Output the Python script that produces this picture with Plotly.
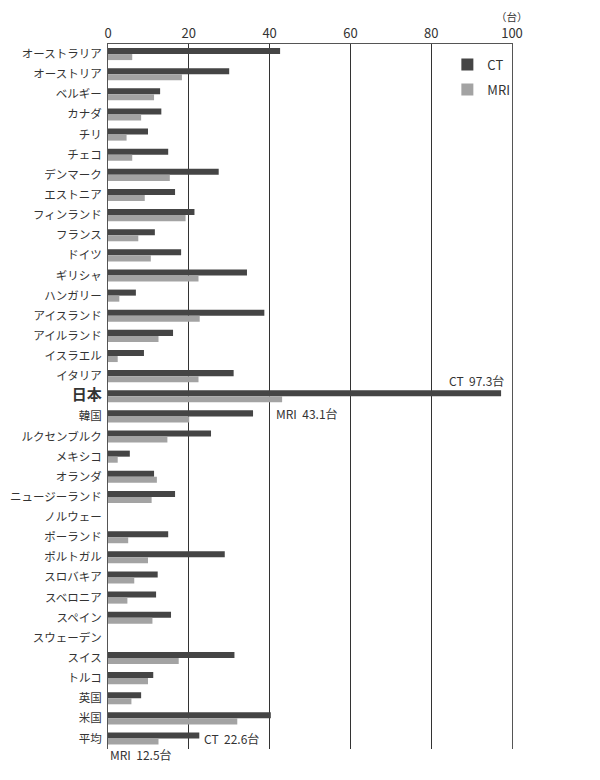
import plotly.graph_objects as go

# 人口100万人あたりの CT / MRI 台数
countries = [
    "オーストラリア", "オーストリア", "ベルギー", "カナダ", "チリ", "チェコ",
    "デンマーク", "エストニア", "フィンランド", "フランス", "ドイツ", "ギリシャ",
    "ハンガリー", "アイスランド", "アイルランド", "イスラエル", "イタリア", "日本",
    "韓国", "ルクセンブルク", "メキシコ", "オランダ", "ニュージーランド", "ノルウェー",
    "ポーランド", "ポルトガル", "スロバキア", "スベロニア", "スペイン", "スウェーデン",
    "スイス", "トルコ", "英国", "米国", "平均",
]
ct = [
    42.6, 30.0, 12.9, 13.2, 9.9, 14.9,
    27.4, 16.6, 21.4, 11.6, 18.1, 34.4,
    6.9, 38.7, 16.1, 8.9, 31.1, 97.3,
    35.9, 25.5, 5.4, 11.4, 16.6, None,
    14.9, 28.9, 12.3, 11.9, 15.6, None,
    31.3, 11.2, 8.2, 40.3, 22.6,
]
mri = [
    6.0, 18.3, 11.4, 8.2, 4.6, 6.0,
    15.3, 9.1, 19.2, 7.5, 10.6, 22.4,
    2.8, 22.7, 12.5, 2.4, 22.4, 43.1,
    20.1, 14.7, 2.4, 12.1, 10.8, None,
    5.0, 9.9, 6.5, 4.8, 11.0, None,
    17.5, 9.9, 5.8, 32.0, 12.5,
]

ticktext = [
    '<span style="font-size:15px"><b>%s</b></span>' % c if c == "日本" else c
    for c in countries
]

FONT = "Noto Sans CJK JP"
NB = "\u00a0\u00a0"

fig = go.Figure()
fig.add_trace(go.Bar(
    y=countries, x=ct, orientation="h", name="CT",
    marker=dict(color="#454545", line=dict(width=0)), legendgroup="ct",
))
fig.add_trace(go.Bar(
    y=countries, x=mri, orientation="h", name="MRI",
    marker=dict(color="#a3a3a3", line=dict(width=0)), legendgroup="mri",
))

jp = countries.index("日本")
avg = countries.index("平均")
annotations = [
    dict(x=ct[jp], y=countries[jp], text="CT" + NB + "%.1f台" % ct[jp],
         xanchor="right", xshift=5, yshift=16, showarrow=False),
    dict(x=mri[jp], y=countries[jp], text="MRI" + NB + "%.1f台" % mri[jp],
         xanchor="left", xshift=-8, yshift=-17, showarrow=False),
    dict(x=ct[avg], y=countries[avg], text="CT" + NB + "%.1f台" % ct[avg],
         xanchor="left", xshift=3, yshift=0, showarrow=False),
    dict(x=mri[avg], y=countries[avg], text="MRI" + NB + "%.1f台" % mri[avg],
         xanchor="right", xshift=15, yshift=-16, showarrow=False),
    dict(x=1, y=1, xref="paper", yref="paper", text="（台）",
         xanchor="center", yanchor="bottom", yshift=19, showarrow=False,
         borderpad=0, font=dict(size=10.5)),
]

# ページの body 余白 (8px) のぶん、余白を調整
fig.update_layout(
    width=600, height=780,
    margin=dict(l=100, r=96, t=36, b=39),
    paper_bgcolor="white", plot_bgcolor="white",
    font=dict(family=FONT, size=12, color="#333333"),
    barmode="group", bargap=0.4, bargroupgap=0,
    showlegend=True,
    legend=dict(x=0.84, y=0.992, xanchor="left", yanchor="top",
                bgcolor="rgba(0,0,0,0)", traceorder="grouped",
                tracegroupgap=5, font=dict(size=13)),
    annotations=annotations,
)
fig.update_xaxes(
    side="top", range=[0, 100], tickvals=[0, 20, 40, 60, 80, 100],
    showgrid=True, gridcolor="#333333", gridwidth=1,
    showline=True, linecolor="#555555", linewidth=1,
    zeroline=False, ticks="", tickfont=dict(size=13),
    automargin=False, fixedrange=True,
)
fig.update_yaxes(
    tickvals=countries, ticktext=ticktext, autorange="reversed",
    showline=True, mirror=True, linecolor="#555555", linewidth=1,
    showgrid=False, ticks="", tickfont=dict(size=11.5), ticklabelstandoff=3,
    automargin=False, fixedrange=True,
)

fig.write_html("out.html")
